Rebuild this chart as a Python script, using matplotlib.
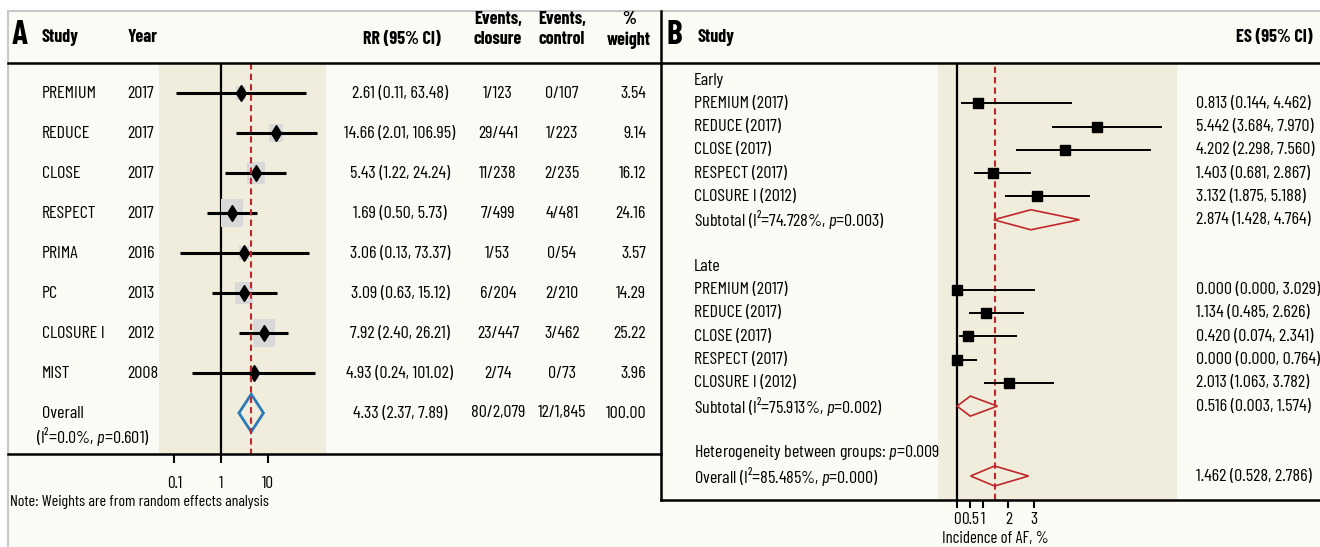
import matplotlib
matplotlib.use('Agg')
import matplotlib.pyplot as plt
import matplotlib.transforms as mtransforms
from matplotlib.lines import Line2D
from matplotlib.patches import Rectangle

plt.rcParams['font.family'] = ['Barlow Condensed', 'Roboto Condensed', 'DejaVu Sans']
plt.rcParams['mathtext.fontset'] = 'custom'
plt.rcParams['mathtext.rm'] = 'Barlow Condensed'
plt.rcParams['mathtext.it'] = 'Barlow Condensed:italic'

# ---- panel A data ----
a_study = ['PREMIUM', 'REDUCE', 'CLOSE', 'RESPECT', 'PRIMA', 'PC', 'CLOSURE I', 'MIST']
a_year = ['2017', '2017', '2017', '2017', '2016', '2013', '2012', '2008']
a_rr = [2.61, 14.66, 5.43, 1.69, 3.06, 3.09, 7.92, 4.93]
a_lo = [0.11, 2.01, 1.22, 0.50, 0.13, 0.63, 2.40, 0.24]
a_hi = [63.48, 106.95, 24.24, 5.73, 73.37, 15.12, 26.21, 101.02]
a_ev_closure = ['1/123', '29/441', '11/238', '7/499', '1/53', '6/204', '23/447', '2/74']
a_ev_control = ['0/107', '1/223', '2/235', '4/481', '0/54', '2/210', '3/462', '0/73']
a_weight = [3.54, 9.14, 16.12, 24.16, 3.57, 14.29, 25.22, 3.96]
a_overall = [4.33, 2.37, 7.89]
a_overall_cols = ['80/2,079', '12/1,845', '100.00']
a_ticks = [0.1, 1, 10]
a_ticklabels = ['0.1', '1', '10']

# ---- panel B data ----
b_labels = ['PREMIUM (2017)', 'REDUCE (2017)', 'CLOSE (2017)', 'RESPECT (2017)', 'CLOSURE I (2012)']
b_early_es = [0.813, 5.442, 4.202, 1.403, 3.132]
b_early_lo = [0.144, 3.684, 2.298, 0.681, 1.875]
b_early_hi = [4.462, 7.970, 7.560, 2.867, 5.188]
b_late_es = [0.000, 1.134, 0.420, 0.000, 2.013]
b_late_lo = [0.000, 0.485, 0.074, 0.000, 1.063]
b_late_hi = [3.029, 2.626, 2.341, 0.764, 3.782]
b_sub_early = [2.874, 1.428, 4.764]
b_sub_late = [0.516, 0.003, 1.574]
b_overall = [1.462, 0.528, 2.786]
b_ticks = [0, 0.5, 1, 2, 3]
b_ticklabels = ['0', '0.5', '1', '2', '3']

W, H = 1320, 547
CREAM = '#fbfbf6'
SHADE = '#f1eddc'
RED = '#c0272d'
FS = 13


def fx(x):
    return x / W


def fy(y):
    return 1 - y / H


fig = plt.figure(figsize=(W / 100, H / 100), dpi=100, facecolor='white')

# outer frame
fig.patches.append(Rectangle((fx(8), fy(560)), fx(1330 - 8), (560 - 11) / H,
                             transform=fig.transFigure, facecolor=CREAM,
                             edgecolor='#c8c8c8', lw=1.5, zorder=-5))


def fline(x0, y0, x1, y1, lw=1.8):
    fig.lines.append(Line2D([fx(x0), fx(x1)], [fy(y0), fy(y1)], color='black',
                            lw=lw, transform=fig.transFigure, zorder=5))


fline(8, 63, 1320, 63)
fline(8, 454, 661, 454)
fline(661, 11, 661, 500)
fline(661, 500, 1320, 500)

# ================= panel A =================
axA = fig.add_axes([fx(159), fy(455), fx(326 - 159), (455 - 64) / H])
axA.set_facecolor(SHADE)
axA.set_xscale('log')
axA.set_xlim(0.0472, 169)
axA.set_ylim(9.05, -0.725)
for s in axA.spines.values():
    s.set_visible(False)
axA.set_yticks([])
axA.set_xticks(a_ticks)
axA.set_xticklabels(a_ticklabels, fontsize=FS - 0.5)
axA.xaxis.set_minor_locator(matplotlib.ticker.NullLocator())
axA.tick_params(axis='x', length=6, width=1.5, pad=9)

axA.axvline(1, color='black', lw=1.6, zorder=1)
axA.axvline(a_overall[0], color=RED, lw=1.5, ls=(0, (3, 2)), zorder=5)

rect = [(-0.39, -0.5), (0.39, -0.5), (0.39, 0.5), (-0.39, 0.5), (-0.39, -0.5)]
rows_a = list(range(len(a_study)))
for i in rows_a:
    h_pt = (4.5 + 4.6 * a_weight[i] ** 0.5) * 0.72
    axA.scatter(a_rr[i], i, marker=rect, s=h_pt ** 2, color='#d9d9d9', zorder=2, lw=0)
    axA.plot([a_lo[i], a_hi[i]], [i, i], color='black', lw=2.2, zorder=3,
             solid_capstyle='butt')
    axA.plot(a_rr[i], i, marker='d', ms=8, color='black', zorder=4)

ov = len(a_study)
est, lo, hi = a_overall
axA.fill([lo, est, hi, est, lo], [ov, ov - 0.47, ov, ov + 0.47, ov],
         facecolor='none', edgecolor='#2a7ab9', lw=2, zorder=4)

tA = mtransforms.blended_transform_factory(fig.transFigure, axA.transData)
for i in rows_a:
    fig.text(fx(42), i, a_study[i], transform=tA, fontsize=FS, va='center')
    fig.text(fx(127), i, a_year[i], transform=tA, fontsize=FS, va='center')
    fig.text(fx(400), i, f'{a_rr[i]:.2f} ({a_lo[i]:.2f}, {a_hi[i]:.2f})',
             transform=tA, fontsize=FS, va='center', ha='center')
    fig.text(fx(498), i, a_ev_closure[i], transform=tA, fontsize=FS, va='center', ha='center')
    fig.text(fx(562), i, a_ev_control[i], transform=tA, fontsize=FS, va='center', ha='center')
    fig.text(fx(646), i, f'{a_weight[i]:.2f}', transform=tA, fontsize=FS, va='center', ha='right')

fig.text(fx(42), ov, 'Overall', transform=tA, fontsize=FS, va='center')
fig.text(fx(36), ov + 0.58, '(I²=0.0%, $p$=0.601)', transform=tA, fontsize=FS, va='center')
fig.text(fx(400), ov, f'{est:.2f} ({lo:.2f}, {hi:.2f})', transform=tA,
         fontsize=FS, va='center', ha='center')
fig.text(fx(498), ov, a_overall_cols[0], transform=tA, fontsize=FS, va='center', ha='center')
fig.text(fx(562), ov, a_overall_cols[1], transform=tA, fontsize=FS, va='center', ha='center')
fig.text(fx(646), ov, a_overall_cols[2], transform=tA, fontsize=FS, va='center', ha='right')

# headers A
fig.text(fx(12), fy(35), 'A', fontsize=24, fontweight='bold', va='center')
fig.text(fx(42), fy(37), 'Study', fontsize=FS, fontweight='bold', va='center')
fig.text(fx(128), fy(37), 'Year', fontsize=FS, fontweight='bold', va='center')
fig.text(fx(402), fy(40), 'RR (95% CI)', fontsize=FS, fontweight='bold', va='center', ha='center')
fig.text(fx(498), fy(20), 'Events,', fontsize=FS, fontweight='bold', va='center', ha='center')
fig.text(fx(498), fy(40), 'closure', fontsize=FS, fontweight='bold', va='center', ha='center')
fig.text(fx(562), fy(20), 'Events,', fontsize=FS, fontweight='bold', va='center', ha='center')
fig.text(fx(562), fy(40), 'control', fontsize=FS, fontweight='bold', va='center', ha='center')
fig.text(fx(629), fy(20), '%', fontsize=FS, fontweight='bold', va='center', ha='center')
fig.text(fx(629), fy(40), 'weight', fontsize=FS, fontweight='bold', va='center', ha='center')
fig.text(fx(10), fy(502), 'Note: Weights are from random effects analysis', fontsize=11.5, va='center')

# ================= panel B =================
axB = fig.add_axes([fx(938), fy(500), fx(1177 - 938), (500 - 64) / H])
axB.set_facecolor(SHADE)
axB.set_xlim(-0.739, 8.56)
axB.set_ylim(18.03, -0.687)
for s in axB.spines.values():
    s.set_visible(False)
axB.set_yticks([])
axB.set_xticks(b_ticks)
axB.set_xticklabels(b_ticklabels, fontsize=FS - 0.5)
axB.tick_params(axis='x', length=6, width=1.5, pad=3)
axB.text((b_ticks[0] + b_ticks[-1]) / 2, -0.088, 'Incidence of AF, %', fontsize=12,
         ha='center', va='center',
         transform=mtransforms.blended_transform_factory(axB.transData, axB.transAxes))

axB.axvline(0, color='black', lw=1.6, zorder=1)
axB.axvline(b_overall[0], color=RED, lw=1.5, ls=(0, (3, 2)), zorder=1)

early_rows = [1, 2, 3, 4, 5]
late_rows = [9, 10, 11, 12, 13]
for rows, es, los, his in [(early_rows, b_early_es, b_early_lo, b_early_hi),
                           (late_rows, b_late_es, b_late_lo, b_late_hi)]:
    for r, e, l, h in zip(rows, es, los, his):
        axB.plot([l, h], [r, r], color='black', lw=1.4, zorder=3, solid_capstyle='butt')
        axB.plot(e, r, marker='s', ms=7.5, color='black', zorder=4)


def diamond(ax, row, vals):
    e, l, h = vals
    ax.fill([l, e, h, e, l], [row, row - 0.43, row, row + 0.43, row],
            facecolor='none', edgecolor=RED, lw=1.2, zorder=4)


diamond(axB, 6, b_sub_early)
diamond(axB, 14, b_sub_late)
diamond(axB, 17, b_overall)

tB = mtransforms.blended_transform_factory(fig.transFigure, axB.transData)
fig.text(fx(694), 0, 'Early', transform=tB, fontsize=FS, va='center')
fig.text(fx(694), 8, 'Late', transform=tB, fontsize=FS, va='center')
for rows, es, los, his in [(early_rows, b_early_es, b_early_lo, b_early_hi),
                           (late_rows, b_late_es, b_late_lo, b_late_hi)]:
    for r, lab, e, l, h in zip(rows, b_labels, es, los, his):
        fig.text(fx(694), r, lab, transform=tB, fontsize=FS, va='center')
        fig.text(fx(1196), r, f'{e:.3f} ({l:.3f}, {h:.3f})', transform=tB,
                 fontsize=FS, va='center')

fig.text(fx(694), 6, 'Subtotal (I²=74.728%, $p$=0.003)', transform=tB, fontsize=FS, va='center')
fig.text(fx(694), 14, 'Subtotal (I²=75.913%, $p$=0.002)', transform=tB, fontsize=FS, va='center')
fig.text(fx(694), 16, 'Heterogeneity between groups: $p$=0.009', transform=tB, fontsize=FS, va='center')
fig.text(fx(694), 17, 'Overall (I²=85.485%, $p$=0.000)', transform=tB, fontsize=FS, va='center')
for r, vals in [(6, b_sub_early), (14, b_sub_late), (17, b_overall)]:
    e, l, h = vals
    fig.text(fx(1196), r, f'{e:.3f} ({l:.3f}, {h:.3f})', transform=tB, fontsize=FS, va='center')

# headers B
fig.text(fx(667), fy(35), 'B', fontsize=24, fontweight='bold', va='center')
fig.text(fx(697), fy(37), 'Study', fontsize=FS, fontweight='bold', va='center')
fig.text(fx(1313), fy(37), 'ES (95% CI)', fontsize=FS, fontweight='bold', va='center', ha='right')

fig.savefig('out.png', dpi=100, facecolor='white')
